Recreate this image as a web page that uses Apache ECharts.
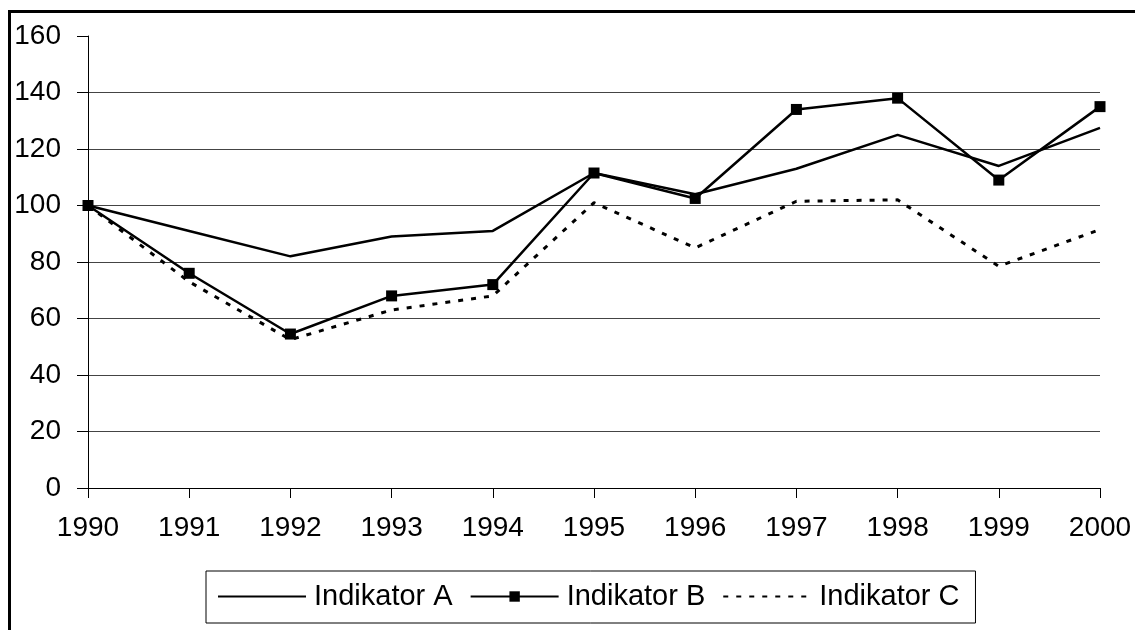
<!DOCTYPE html>
<html>
<head>
<meta charset="utf-8">
<script src="https://cdn.jsdelivr.net/npm/echarts@6/dist/echarts.min.js"></script>
<style>
  html, body { margin: 0; padding: 0; background: #fff; }
  #chart { width: 1135px; height: 630px; }
</style>
</head>
<body>
<div id="chart"></div>
<script>
  // data
  const years = ['1990', '1991', '1992', '1993', '1994', '1995', '1996', '1997', '1998', '1999', '2000']
  const indikatorA = [100, 91, 82, 89, 91, 111.5, 104, 113, 125, 114, 127.5]
  const indikatorB = [100, 76, 54.5, 68, 72, 111.5, 102.5, 134, 138, 109, 135]
  const indikatorC = [100, 73, 52.5, 63, 68, 101, 85, 101.5, 102, 78.5, 91.5]
  const seriesNames = ['Indikator A', 'Indikator B', 'Indikator C']

  const font = '"Liberation Sans", Arial, sans-serif'
  const chart = echarts.init(document.getElementById('chart'), null, { renderer: 'canvas' })

  chart.setOption({
    animation: false,
    backgroundColor: '#fff',
    graphic: [{
      type: 'rect',
      shape: { x: 9.5, y: 11.5, width: 1140, height: 640 },
      style: { fill: 'none', stroke: '#000', lineWidth: 3 },
      silent: true
    }],
    grid: {
      left: 88,
      right: 35,
      top: 36,
      bottom: 142
    },
    legend: {
      // no dot on the plain lines, square only for B
      data: [
        { name: seriesNames[0], itemStyle: { opacity: 0 } },
        { name: seriesNames[1] },
        { name: seriesNames[2], itemStyle: { opacity: 0 } }
      ],
      left: 206,
      top: 571,
      orient: 'horizontal',
      padding: [11, 16, 12, 11],
      itemGap: 17,
      itemWidth: 88,
      itemHeight: 13,
      borderColor: '#000',
      borderWidth: 1,
      textStyle: { fontFamily: font, fontSize: 29, color: '#000', padding: [0, 0, 0, 3] }
    },
    xAxis: {
      type: 'category',
      data: years,
      boundaryGap: false,
      axisLine: { lineStyle: { color: '#000', width: 1 } },
      axisTick: { show: true, length: 10, lineStyle: { color: '#000' } },
      axisLabel: { fontFamily: font, fontSize: 28, color: '#000', margin: 26 },
      splitLine: { show: false }
    },
    yAxis: {
      type: 'value',
      min: 0,
      max: 160,
      interval: 20,
      axisLine: { show: true, lineStyle: { color: '#000', width: 1 } },
      axisTick: { show: true, length: 11, lineStyle: { color: '#000' } },
      axisLabel: { fontFamily: font, fontSize: 28, color: '#000', margin: 27 },
      splitLine: { show: true, showMaxLine: false, lineStyle: { color: '#444', width: 1 } }
    },
    series: [
      {
        name: seriesNames[0],
        type: 'line',
        data: indikatorA,
        symbol: 'none',
        lineStyle: { color: '#000', width: 2.5 },
        itemStyle: { color: '#000' }
      },
      {
        name: seriesNames[1],
        type: 'line',
        data: indikatorB,
        symbol: 'rect',
        symbolSize: 11,
        lineStyle: { color: '#000', width: 2.5 },
        itemStyle: { color: '#000' }
      },
      {
        name: seriesNames[2],
        type: 'line',
        data: indikatorC,
        symbol: 'none',
        lineStyle: { color: '#000', width: 3, type: [5, 8] },
        itemStyle: { color: '#000' }
      }
    ]
  })
</script>
</body>
</html>
